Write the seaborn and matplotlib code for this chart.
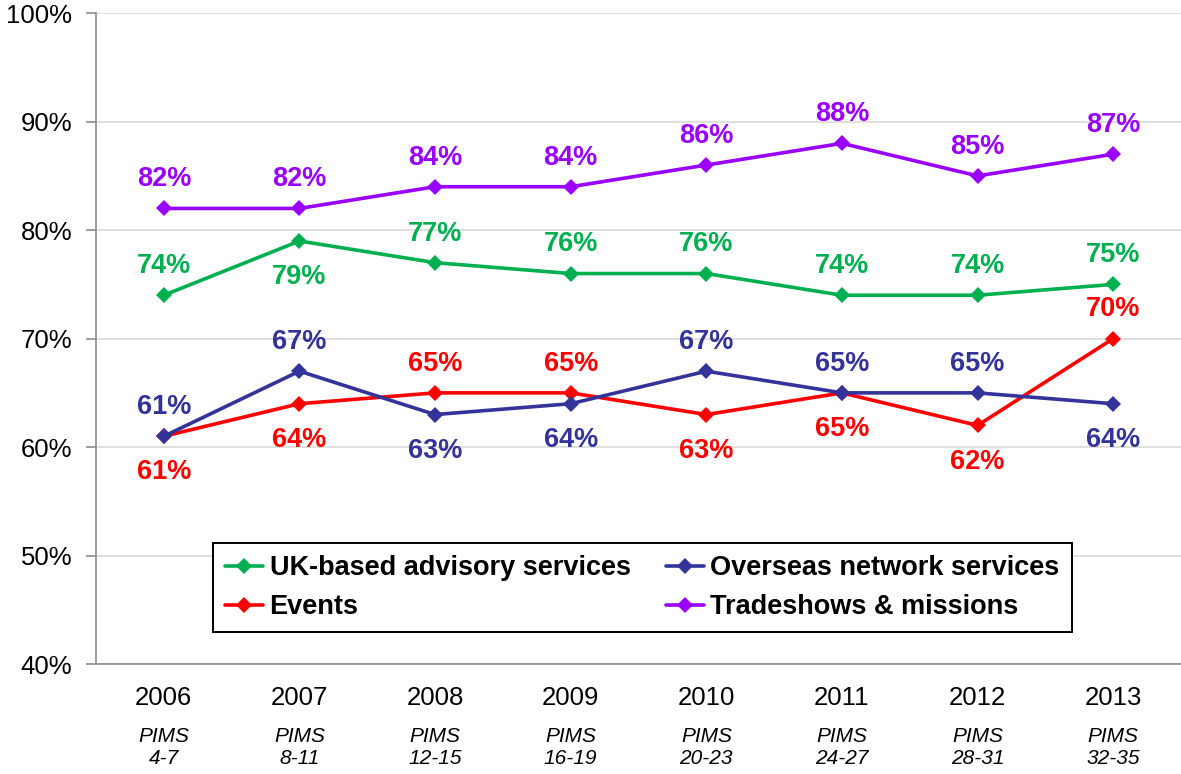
import numpy as np
import pandas as pd
import matplotlib
matplotlib.use("Agg")
import matplotlib.pyplot as plt
import matplotlib.transforms as mtransforms
import seaborn as sns

years = ["2006", "2007", "2008", "2009", "2010", "2011", "2012", "2013"]
pims = ["4-7", "8-11", "12-15", "16-19", "20-23", "24-27", "28-31", "32-35"]

uk_advisory = [74, 79, 77, 76, 76, 74, 74, 75]
overseas = [61, 67, 63, 64, 67, 65, 65, 64]
events = [61, 64, 65, 65, 63, 65, 62, 70]
tradeshows = [82, 82, 84, 84, 86, 88, 85, 87]

series_names = ["UK-based advisory services", "Events",
                "Overseas network services", "Tradeshows & missions"]
series_values = [uk_advisory, events, overseas, tradeshows]
series_colors = ["#00B050", "#FF0000", "#333399", "#9900FF"]

# label placement per point: +1 above the marker, -1 below
label_side = {
    "UK-based advisory services": [1, -1, 1, 1, 1, 1, 1, 1],
    "Events": [-1, -1, 1, 1, -1, -1, -1, 1],
    "Overseas network services": [1, 1, -1, -1, 1, 1, 1, -1],
    "Tradeshows & missions": [1, 1, 1, 1, 1, 1, 1, 1],
}

rows = []
for name, vals in zip(series_names, series_values):
    for i, v in enumerate(vals):
        rows.append({"idx": i, "value": v, "series": name})
df = pd.DataFrame(rows)

sns.set_theme(style="white")
plt.rcParams["font.family"] = ["Liberation Sans", "DejaVu Sans"]
plt.rcParams["text.color"] = "black"
plt.rcParams["xtick.color"] = "black"
plt.rcParams["ytick.color"] = "black"

fig = plt.figure(figsize=(11.81, 7.74), dpi=100)
ax = fig.add_axes([0.0813, 0.142, 0.9187, 0.841])

palette = dict(zip(series_names, series_colors))
sns.lineplot(data=df, x="idx", y="value", hue="series", hue_order=series_names,
             palette=palette, marker="D", markersize=8.5, markeredgewidth=0,
             linewidth=2.6, sort=False, ax=ax, legend=True, zorder=3)

for name, vals, col in zip(series_names, series_values, series_colors):
    for i, v in enumerate(vals):
        side = label_side[name][i]
        ax.annotate(f"{v}%", xy=(i, v), xytext=(0, 21 if side > 0 else -26),
                    textcoords="offset points", ha="center", va="center",
                    fontsize=19.5, fontweight="bold", color=col, zorder=4)

ax.set_xlim(-0.5, 7.5)
ax.set_ylim(40, 100)
ax.set_yticks(np.arange(40, 101, 10))
ax.set_yticklabels([f"{t}%" for t in range(40, 101, 10)], fontsize=18.5, color="black")
ax.yaxis.grid(True, color="#D9D9D9", linewidth=1.2)
ax.set_axisbelow(True)

ax.set_xticks(range(len(years)))
ax.set_xticklabels(years, fontsize=18.5, color="black")
ax.set_xticks(np.arange(-0.5, 8.0, 1.0), minor=True)
ax.tick_params(axis="x", which="major", length=0, pad=16)
ax.tick_params(axis="x", which="minor", length=7, width=1.2, color="#8C8C8C", direction="out")
ax.tick_params(axis="y", which="major", length=7, width=1.2, color="#8C8C8C",
               direction="out", pad=10, left=True)
ax.set_xlabel("")
ax.set_ylabel("")

trans = mtransforms.blended_transform_factory(ax.transData, fig.transFigure)
for i, p in enumerate(pims):
    ax.text(i, 1 - 737 / 774, "PIMS", transform=trans, ha="center", va="center",
            fontsize=15, fontstyle="italic", color="black")
    ax.text(i, 1 - 758 / 774, p, transform=trans, ha="center", va="center",
            fontsize=15, fontstyle="italic", color="black")

for side in ["top", "right"]:
    ax.spines[side].set_visible(False)
for side in ["left", "bottom"]:
    ax.spines[side].set_color("#8C8C8C")
    ax.spines[side].set_linewidth(1.2)

handles, labels = ax.get_legend_handles_labels()
leg = ax.legend(handles, labels, ncol=2, loc="center",
                bbox_to_anchor=(0.5035, 0.1175),
                prop={"size": 19.5, "weight": "bold"}, frameon=True, fancybox=False,
                handlelength=1.4, handletextpad=0.25, labelspacing=0.48,
                borderpad=0.45, columnspacing=1.3, borderaxespad=0)
for t in leg.get_texts():
    t.set_color("black")
leg.get_frame().set_edgecolor("black")
leg.get_frame().set_linewidth(1.4)
leg.get_frame().set_facecolor("white")
leg.get_frame().set_alpha(1)

fig.savefig("out.png", dpi=100, facecolor="white")
